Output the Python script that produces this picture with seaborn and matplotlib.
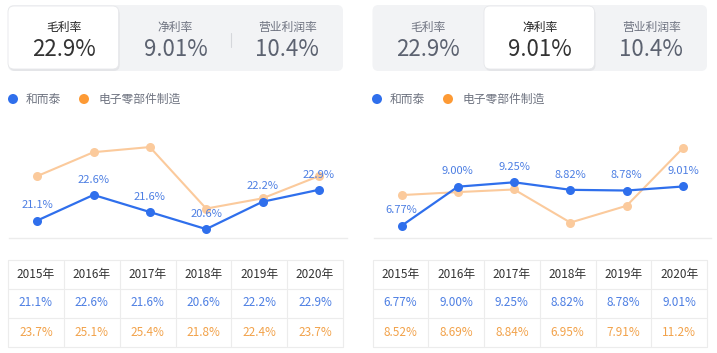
import matplotlib
matplotlib.use("Agg")
import matplotlib.pyplot as plt
from matplotlib.patches import FancyBboxPatch, Circle
import seaborn as sns

# data
years = ['2015年', '2016年', '2017年', '2018年', '2019年', '2020年']
tab_names = ['毛利率', '净利率', '营业利润率']
tab_values = ['22.9%', '9.01%', '10.4%']
series_names = ['和而泰', '电子零部件制造']
gross_company = [21.1, 22.6, 21.6, 20.6, 22.2, 22.9]
gross_industry = [23.7, 25.1, 25.4, 21.8, 22.4, 23.7]
net_company = [6.77, 9.00, 9.25, 8.82, 8.78, 9.01]
net_industry = [8.52, 8.69, 8.84, 6.95, 7.91, 11.2]

W, H = 717, 353
BLUE = '#2f6fec'
BLUE_TXT = '#4d7fe3'
ORANGE_PALE = '#fbca9c'
ORANGE = '#fd9a35'
ORANGE_TXT = '#f2a24a'
GREY_TXT = '#6e7380'
BAR_BG = '#f2f3f5'
GRID = '#ececec'

sns.set_theme(style='white')
plt.rcParams['font.family'] = ['Noto Sans CJK SC', 'DejaVu Sans']

fig = plt.figure(figsize=(W / 100, H / 100), dpi=100)
bg = fig.add_axes([0, 0, 1, 1])
bg.set_xlim(0, W)
bg.set_ylim(H, 0)
bg.axis('off')


def fmt(v):
    return f"{v:#.3g}%"


def draw_panel(x0, x1, selected, company, industry, ylim, leg_x):
    # tab bar
    bg.add_patch(FancyBboxPatch((x0, 5), x1 - x0, 66, boxstyle='round,pad=0,rounding_size=6',
                                fc=BAR_BG, ec='none', zorder=1))
    tw = (x1 - x0) / 3
    sx = x0 + selected * tw
    bg.add_patch(FancyBboxPatch((sx + 1, 8), tw - 1, 63, boxstyle='round,pad=0,rounding_size=6',
                                fc='#dcdde0', ec='none', zorder=2, alpha=0.6))
    bg.add_patch(FancyBboxPatch((sx, 6), tw - 1, 63, boxstyle='round,pad=0,rounding_size=6',
                                fc='white', ec='#e6e7ea', lw=0.6, zorder=3))
    for i, (name, val) in enumerate(zip(tab_names, tab_values)):
        cx = x0 + tw * (i + 0.5)
        sel = i == selected
        bg.text(cx, 27, name, ha='center', va='center', fontsize=8.5,
                color='#222222' if sel else GREY_TXT, zorder=4)
        bg.text(cx, 50, val, ha='center', va='center', fontsize=16,
                color='#333333' if sel else '#5c6270', zorder=4)
    if selected == 0:
        bg.plot([x0 + 2 * tw, x0 + 2 * tw], [33, 47], color='#d5d7db', lw=0.8, zorder=4)

    # legend
    bg.add_patch(Circle((leg_x, 99), 5, fc=BLUE, ec='none'))
    bg.text(leg_x + 13, 99, series_names[0], va='center', fontsize=8.5, color=GREY_TXT)
    bg.add_patch(Circle((leg_x + 71, 99), 5, fc=ORANGE, ec='none'))
    bg.text(leg_x + 86, 99, series_names[1], va='center', fontsize=8.5, color=GREY_TXT)

    # line chart
    ax = fig.add_axes([(x0 + 1) / W, 1 - 238 / H, (x1 - x0 + 3) / W, 120 / H])
    xs = list(range(len(years)))
    sns.lineplot(x=xs, y=industry, ax=ax, color=ORANGE_PALE, marker='o', markersize=6.5,
                 markeredgewidth=0, linewidth=1.5, zorder=2)
    sns.lineplot(x=xs, y=company, ax=ax, color=BLUE, marker='o', markersize=6.5,
                 markeredgewidth=0, linewidth=1.6, zorder=3)
    for x, v in zip(xs, company):
        ax.annotate(fmt(v), (x, v), xytext=(0, 11), textcoords='offset points',
                    ha='center', va='center', fontsize=8, color=BLUE_TXT, zorder=5)
    ax.set_xlim(-0.5, 5.5)
    ax.set_ylim(*ylim)
    ax.set_xticks([])
    ax.set_yticks([])
    ax.patch.set_alpha(0)
    for s in ['top', 'left', 'right']:
        ax.spines[s].set_visible(False)
    ax.spines['bottom'].set_color(GRID)
    ax.spines['bottom'].set_linewidth(1)

    # table
    cw = (x1 - x0) / 6
    rows = [259.5, 288.5, 317.5, 346.5]
    for y in rows:
        bg.plot([x0, x1], [y, y], color=GRID, lw=0.8)
    for j in range(7):
        bg.plot([x0 + j * cw] * 2, [rows[0], rows[-1]], color=GRID, lw=0.8)
    for j in range(6):
        cx = x0 + cw * (j + 0.5)
        bg.text(cx, 274.5, years[j], ha='center', va='center', fontsize=8.5, color='#333333')
        bg.text(cx, 303, fmt(company[j]), ha='center', va='center', fontsize=8.5, color=BLUE_TXT)
        bg.text(cx, 332, fmt(industry[j]), ha='center', va='center', fontsize=8.5, color=ORANGE_TXT)


draw_panel(8, 343, 0, gross_company, gross_industry, (20.08, 27.1), 13)
draw_panel(372.5, 707, 1, net_company, net_industry, (6.07, 12.92), 377)

fig.savefig('out.png', dpi=100, facecolor='white')
